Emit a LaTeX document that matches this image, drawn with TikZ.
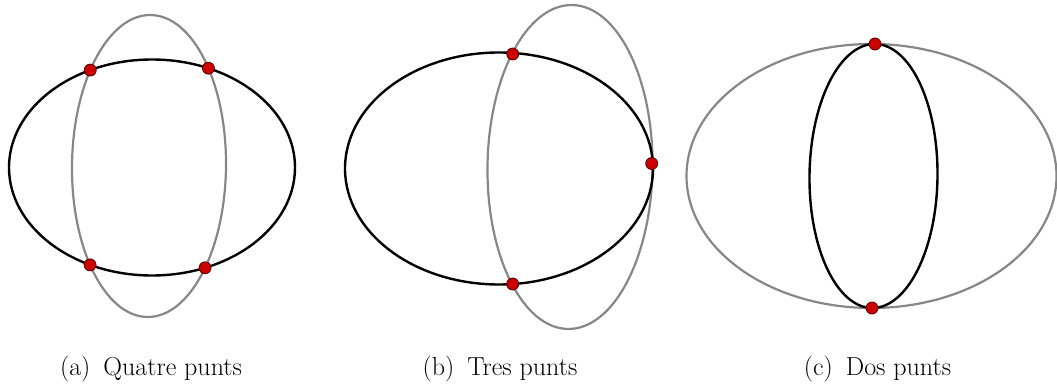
\documentclass[tikz,border=0pt]{standalone}
\usetikzlibrary{intersections}
\definecolor{puntred}{RGB}{204,0,0}
\tikzset{
  corba/.style={line width=2.4pt, color=black},
  corbb/.style={line width=2.2pt, color=black!47},
  punt/.style={fill=puntred, draw=black!60!puntred, line width=0.8pt},
  peu/.style={font=\fontsize{26}{31}\selectfont, anchor=base}
}
\begin{document}
\begin{tikzpicture}[x=1pt,y=-1pt]
			\useasboundingbox (0,0) rectangle (1057,385);
			% (a)
			\draw[corbb, name path=gA, rotate around={-0.6:(149,166)}](149,166) ellipse (77 and 151);
			\draw[corba, name path=nA](152,167.5) ellipse (143 and 108);
			\path[name intersections={of=gA and nA, name=pA}];
			\foreach \i in {1,...,4}
				\draw[punt](pA-\i) circle(6);
			% (b)
			\draw[corbb, rotate around={-0.7:(570,167)}](570,167) ellipse (82.5 and 162);
			\draw[corba](499,168.5) ellipse (154 and 116);
			\coordinate (pB1) at (512.7,54);
			\coordinate (pB2) at (651.7,163.5);
			\coordinate (pB3) at (512.7,284);
			\foreach \i in {1,2,3}
				\draw[punt](pB\i) circle(6);
			% (c)
			\draw[corbb](871.5,176) ellipse (185 and 132);
			\draw[corba, rotate around={-0.65:(873.5,176)}](873.5,176) ellipse (64 and 132);
			\coordinate (pC1) at (875,44);
			\coordinate (pC2) at (872,308);
			\foreach \i in {1,2}
				\draw[punt](pC\i) circle(6);
			% peus
			\node[peu] (capA) at (151,375) {(a)\hspace{0.5em}Quatre punts};
			\node[peu] (capB) at (500,375) {(b)\hspace{0.5em}Tres punts};
			\node[peu] (capC) at (877.5,375) {(c)\hspace{0.5em}Dos punts};
		\end{tikzpicture}
\end{document}
